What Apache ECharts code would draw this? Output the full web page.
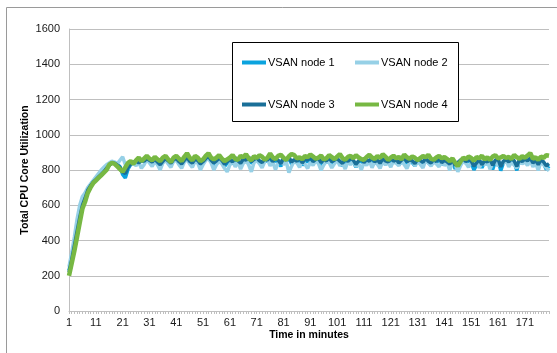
<!DOCTYPE html>
<html>
<head>
<meta charset="utf-8">
<script src="https://cdn.jsdelivr.net/npm/echarts@6/dist/echarts.min.js"></script>
<style>html,body{margin:0;padding:0;background:#fff}#c{width:557px;height:353px}</style>
</head>
<body>
<div id="c"></div>
<script>
var categories = [];
for (var i = 1; i <= 180; i++) categories.push(String(i));
var seriesNames = ['VSAN node 1', 'VSAN node 2', 'VSAN node 3', 'VSAN node 4'];
var yTicks = [0, 200, 400, 600, 800, 1000, 1200, 1400, 1600];

var node1 = [230,300,380,460,540,610,650,690,715,735,
750,765,780,795,815,830,845,840,830,820,
775,755,805,830,845,850,835,860,845,870,
850,840,860,835,815,845,860,850,830,855,
865,840,825,850,870,845,830,860,850,825,
840,860,875,850,830,845,865,850,820,840,
852,834,866,840,825,858,845,870,838,851,
866,842,829,856,848,872,836,858,844,821,
861,847,869,833,852,840,864,826,855,846,
871,838,850,861,829,852,842,866,834,848,
859,841,824,855,838,862,848,816,843,857,
830,852,841,866,835,849,826,858,844,836,
862,840,853,829,848,866,837,851,842,824,
855,846,833,860,842,828,853,839,864,831,
848,836,822,852,806,831,848,859,838,854,
842,801,828,853,812,846,834,858,803,849,
858,796,840,852,837,861,844,798,852,838,
856,843,862,829,847,812,851,836,803,822];

var node2 = [250,330,420,520,600,650,670,700,720,740,
760,780,800,815,830,840,850,845,835,855,
875,830,815,845,835,825,845,810,830,860,
840,820,850,830,800,840,855,835,815,850,
855,830,810,845,860,835,815,850,840,800,
830,855,865,840,800,830,850,835,810,790,
830,852,818,846,805,838,858,829,790,842,
855,836,812,848,862,824,845,802,839,857,
831,848,786,822,851,840,815,857,832,809,
844,826,853,837,798,829,851,843,812,836,
858,824,840,806,848,830,852,819,838,801,
842,826,855,813,846,834,809,850,829,845,
816,852,838,824,858,831,808,844,855,822,
848,832,811,856,839,823,847,835,818,852,
826,840,798,848,831,790,824,852,839,816,
845,830,856,812,842,829,855,804,838,850,
822,846,836,858,818,843,829,811,852,835,
846,826,858,818,840,797,848,830,812,795];

var node3 = [220,290,370,450,530,600,640,685,710,730,
745,760,775,790,810,825,840,838,828,815,
790,780,815,835,840,852,840,855,850,865,
855,845,862,845,830,850,865,852,838,858,
866,848,835,855,872,850,840,862,855,835,
848,865,878,855,840,852,868,855,832,848,
858,846,870,852,838,862,856,874,848,860,
870,852,842,864,856,876,848,866,854,836,
868,856,874,845,860,850,870,840,862,856,
874,848,860,868,842,860,852,870,846,856,
866,850,838,862,848,868,856,832,852,864,
842,860,850,870,846,858,838,864,852,846,
868,850,860,840,856,870,846,858,852,836,
862,854,844,866,850,840,860,848,868,842,
856,846,834,860,826,842,856,864,848,860,
850,822,840,860,830,854,846,864,826,856,
864,818,850,860,846,866,852,820,860,848,
862,852,868,840,856,830,858,846,824,836];

var node4 = [200,270,340,420,500,580,620,670,700,725,
740,755,770,785,800,830,840,835,820,805,
790,815,840,850,835,855,870,850,865,880,
865,855,875,860,850,870,880,860,845,870,
880,865,850,875,895,870,855,880,870,850,
860,880,895,870,860,870,885,865,850,860,
870,885,862,858,880,872,890,866,855,878,
868,884,875,858,870,893,871,862,880,886,
869,857,878,890,884,866,872,861,879,872,
888,876,864,870,882,859,867,884,873,861,
876,890,868,858,874,880,866,884,871,862,
858,874,886,870,863,879,868,889,876,857,
870,881,866,874,860,888,872,864,877,869,
856,868,879,872,886,864,858,871,880,866,
874,862,850,866,842,822,848,870,862,876,
868,852,874,866,881,860,872,858,876,884,
866,871,880,868,874,862,886,872,864,878,
870,882,896,864,872,858,876,869,884,881];

var colors = ['#0BA3DE', '#96D0E6', '#1A6F98', '#77B843'];
var widths = [3.5, 3.5, 3.5, 4.5];
var dataSets = [node1, node2, node3, node4];

var FONT = '"Liberation Sans", Arial, sans-serif';
var chart = echarts.init(document.getElementById('c'));
var series = seriesNames.map(function (n, k) {
  return {
    name: n, type: 'line', data: dataSets[k], symbol: 'none',
    lineStyle: { color: colors[k], width: widths[k] },
    itemStyle: { color: colors[k] },
    animation: false, z: 2 + k
  };
});
var legendCommon = {
  orient: 'vertical', itemWidth: 24, itemHeight: 4, itemGap: 31,
  icon: 'rect', textStyle: { fontFamily: FONT, fontSize: 11, color: '#000', padding: [0, 0, 0, -3] },
  padding: 0
};
chart.setOption({
  animation: false,
  backgroundColor: '#fff',
  color: colors,
  grid: { left: 69, top: 29, right: 8, bottom: 42, containLabel: false },
  graphic: [
    { type: 'rect', shape: { x: 6.5, y: 7.5, width: 560, height: 360 }, style: { fill: 'none', stroke: '#9a9a9a', lineWidth: 1 }, z: 0 },
    { type: 'rect', shape: { x: 232.5, y: 42.5, width: 226, height: 79 }, style: { fill: '#fff', stroke: '#000', lineWidth: 1 }, z: 50 }
  ],
  legend: [
    Object.assign({ data: ['VSAN node 1', 'VSAN node 3'], left: 242, top: 57, z: 60 }, legendCommon),
    Object.assign({ data: ['VSAN node 2', 'VSAN node 4'], left: 355, top: 57, z: 60 }, legendCommon)
  ],
  xAxis: {
    type: 'category', data: categories, boundaryGap: false,
    name: 'Time in minutes', nameLocation: 'middle', nameGap: 19, nameMoveOverlap: false,
    nameTextStyle: { fontFamily: FONT, fontSize: 10.5, fontWeight: 'bold', color: '#000' },
    axisLine: { lineStyle: { color: '#bfbfbf', width: 1 } },
    axisTick: { show: true, interval: 0, length: 3, lineStyle: { color: '#bfbfbf' } },
    axisLabel: { interval: 9, fontFamily: FONT, fontSize: 11, color: '#1a1a1a', margin: 6 },
    splitLine: { show: false }
  },
  yAxis: {
    type: 'value', min: 0, max: 1600, interval: 200,
    name: 'Total CPU Core Utilization', nameLocation: 'middle', nameGap: 38, nameRotate: 90, nameMoveOverlap: false,
    nameTextStyle: { fontFamily: FONT, fontSize: 10.5, fontWeight: 'bold', color: '#000' },
    axisLine: { show: true, lineStyle: { color: '#bfbfbf', width: 1 } },
    axisTick: { show: false },
    axisLabel: { fontFamily: FONT, fontSize: 11, color: '#1a1a1a', margin: 9,
      formatter: function (v) { return yTicks.indexOf(v) >= 0 ? String(v) : ''; } },
    splitLine: { lineStyle: { color: '#bfbfbf', width: 1 } }
  },
  series: series
});
</script>
</body>
</html>
